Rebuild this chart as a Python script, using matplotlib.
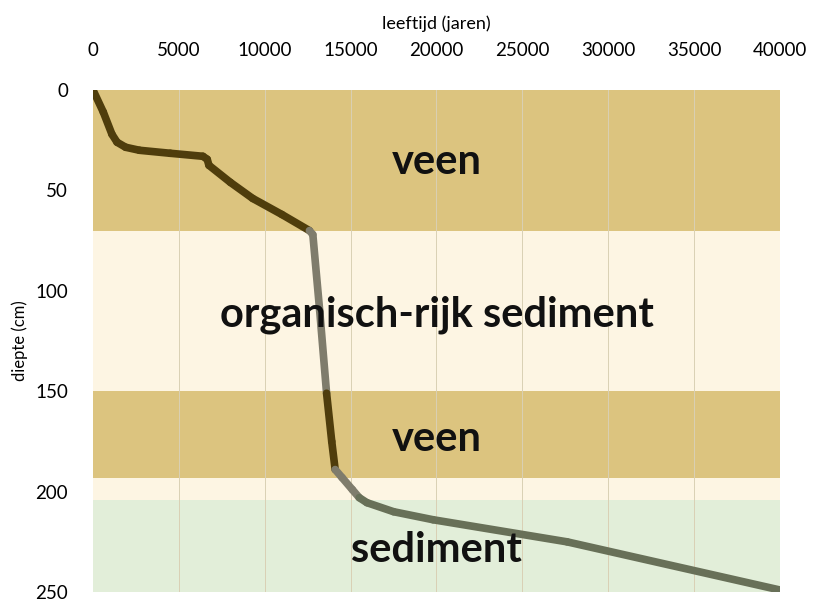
import matplotlib.pyplot as plt
import numpy as np

# leeftijd (jaren) vs diepte (cm)
age = [0, 600, 1100, 1400, 1900, 2700, 4500, 6400, 6650, 6750, 8000, 9300, 11000, 12600,
       12800, 13200, 13600, 13900, 14100, 14500, 15100, 15500, 15950, 17500, 19800, 27600, 40000]
depth = [0, 11, 22, 26, 28.5, 30, 31.5, 33, 34.5, 37.5, 46, 54, 62, 70,
         72, 110, 151, 175, 189, 193, 199, 203, 205.5, 210, 214, 225, 249]

# layers: (top, bottom, colour, label)
layer_top = [0, 70, 150, 193, 204]
layer_bottom = [70, 150, 193, 204, 250]
layer_colour = ['#dcc47f', '#fdf5e3', '#dcc47f', '#fdf5e3', '#e2eed9']
layer_label = ['veen', 'organisch-rijk sediment', 'veen', '', 'sediment']
label_depth = [36, 112, 174, None, 229]

xticks = np.arange(0, 40001, 5000)
yticks = [0, 50, 100, 150, 200, 250]

plt.rcParams['font.family'] = ['Lato', 'DejaVu Sans']

fig = plt.figure(figsize=(8.13, 6.03), dpi=100)
ax = fig.add_axes([0.1144, 0.0182, 0.845, 0.8325])

for top, bot, col, lab, ld in zip(layer_top, layer_bottom, layer_colour, layer_label, label_depth):
    ax.axhspan(top, bot, color=col, zorder=0, lw=0)
    if lab:
        ax.text(20000, ld, lab, ha='center', va='center', fontsize=30,
                fontweight='bold', color='#111111', zorder=3)

for x in xticks[1:]:
    ax.axvline(x, color='#d9d0b4', lw=0.7, zorder=1)

# line colour depends on the layer the segment is in
age = np.array(age)
depth = np.array(depth)
for i in range(len(age) - 1):
    mid = (depth[i] + depth[i + 1]) / 2
    if mid < 70 or (150 <= mid < 190):
        c = '#4f3d0c'
    elif mid >= 204:
        c = '#687058'
    else:
        c = '#7f7c6c'
    ax.plot(age[i:i + 2], depth[i:i + 2], color=c, lw=5.5, solid_capstyle='round', zorder=2)

ax.set_xlim(0, 40000)
ax.set_ylim(250, 0)
ax.set_xticks(xticks)
ax.set_yticks(yticks)
ax.xaxis.tick_top()
ax.xaxis.set_label_position('top')
ax.tick_params(length=0, labelsize=13.5)
ax.tick_params(axis='x', pad=22)
ax.tick_params(axis='y', pad=18)
ax.set_xlabel('leeftijd (jaren)', fontsize=13, labelpad=10)
ax.set_ylabel('diepte (cm)', fontsize=12, labelpad=5)
for s in ax.spines.values():
    s.set_visible(False)

fig.savefig('out.png', dpi=100)
